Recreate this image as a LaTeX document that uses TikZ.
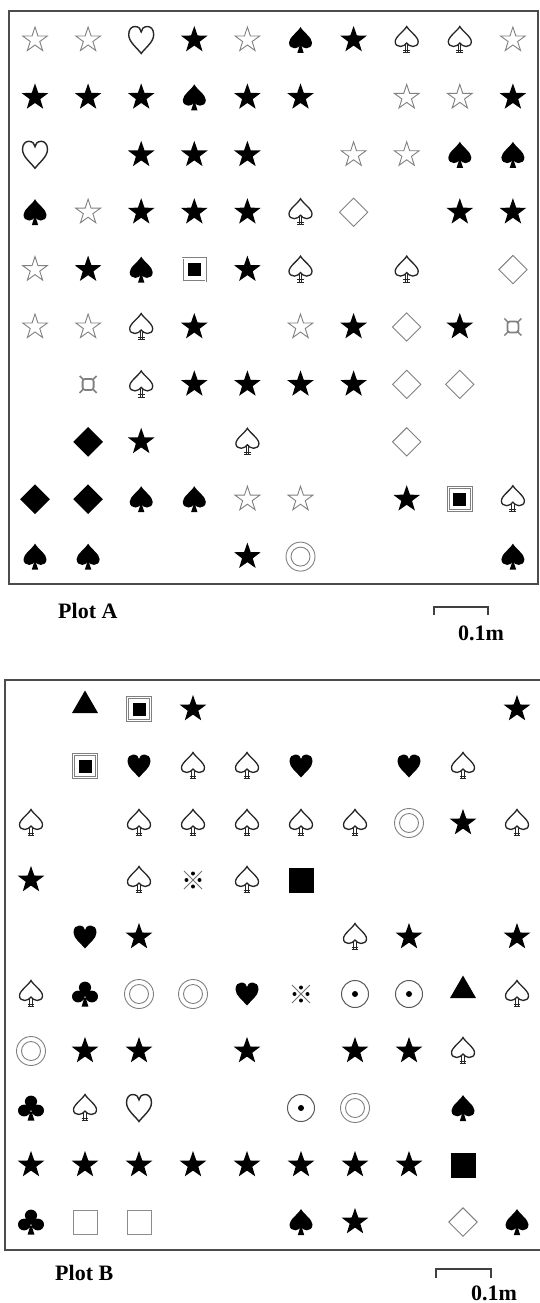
\documentclass[tikz,border=0pt]{standalone}
\usepackage{fontspec}
\setmainfont{Liberation Serif}
\usetikzlibrary{shapes.geometric}
\def\heartpath{(0,0.5) .. controls (-0.15,0.3) and (-0.5,0.08) .. (-0.5,-0.2)
 .. controls (-0.5,-0.4) and (-0.38,-0.5) .. (-0.25,-0.5)
 .. controls (-0.1,-0.5) and (0,-0.4) .. (0,-0.3)
 .. controls (0,-0.4) and (0.1,-0.5) .. (0.25,-0.5)
 .. controls (0.38,-0.5) and (0.5,-0.4) .. (0.5,-0.2)
 .. controls (0.5,0.08) and (0.15,0.3) .. (0,0.5) -- cycle}
\def\spadepath{(0,-0.5) .. controls (-0.12,-0.3) and (-0.5,-0.1) .. (-0.5,0.1)
 .. controls (-0.5,0.25) and (-0.38,0.32) .. (-0.25,0.32)
 .. controls (-0.13,0.32) and (-0.05,0.25) .. (-0.03,0.2)
 -- (-0.14,0.5) -- (0.14,0.5) -- (0.03,0.2)
 .. controls (0.05,0.25) and (0.13,0.32) .. (0.25,0.32)
 .. controls (0.38,0.32) and (0.5,0.25) .. (0.5,0.1)
 .. controls (0.5,-0.1) and (0.12,-0.3) .. (0,-0.5) -- cycle}
\def\ospadepath{(0,-0.5) .. controls (-0.1,-0.34) and (-0.5,-0.12) .. (-0.5,0.06)
 .. controls (-0.5,0.18) and (-0.4,0.24) .. (-0.27,0.24)
 .. controls (-0.15,0.24) and (-0.05,0.17) .. (0,0.11)
 .. controls (0.05,0.17) and (0.15,0.24) .. (0.27,0.24)
 .. controls (0.4,0.24) and (0.5,0.18) .. (0.5,0.06)
 .. controls (0.5,-0.12) and (0.1,-0.34) .. (0,-0.5) -- cycle}
\tikzset{
  frame/.style={draw=black!70, line width=1.4pt},
  bar/.style={draw=black!75, line width=1.1pt},
  label/.style={font=\bfseries\fontsize{22}{22}\selectfont, inner sep=0pt},
  sym s/.style={shape=star, star points=5, star point ratio=2.6, minimum size=26pt, inner sep=0pt, draw=black!50, line width=0.9pt},
  sym S/.style={shape=star, star points=5, star point ratio=2.5, minimum size=28pt, inner sep=0pt, fill=black},
  sym d/.style={shape=rectangle, rotate=45, minimum size=20pt, inner sep=0pt, draw=black!50, line width=0.9pt},
  sym D/.style={shape=rectangle, rotate=45, minimum size=21pt, inner sep=0pt, fill=black},
  sym q/.style={shape=rectangle, minimum size=23pt, inner sep=0pt, draw=black!50, double, double distance=1.2pt, line width=0.7pt,
    path picture={\fill[black] (path picture bounding box.center) ++(-6.5,-6.5) rectangle ++(13,13);}},
  sym o/.style={shape=circle, minimum size=29pt, inner sep=0pt, draw=black!50, line width=0.9pt,
    path picture={\draw[black!50, line width=0.9pt] (path picture bounding box.center) circle (9.5pt);}},
  sym t/.style={shape=circle, minimum size=27pt, inner sep=0pt, draw=black!65, line width=1pt,
    path picture={\fill[black] (path picture bounding box.center) circle (3pt);}},
  sym T/.style={shape=regular polygon, regular polygon sides=3, minimum size=30pt, inner sep=0pt, fill=black, yshift=3.5pt},
  sym Q/.style={shape=rectangle, minimum size=25pt, inner sep=0pt, fill=black},
  sym b/.style={shape=rectangle, minimum size=24pt, inner sep=0pt, draw=black!45, line width=1pt},
  pics/heartF/.style={code={\fill[black, xscale=23, yscale=23] \heartpath;}},
  pics/heartO/.style={code={\draw[black!85, line width=1.4pt, xscale=25, yscale=27] \heartpath;}},
  pics/spadeF/.style={code={\fill[black, xscale=23, yscale=26] \spadepath;}},
  pics/spadeO/.style={code={
    \draw[black!85, line width=1.3pt, xscale=23, yscale=27] \ospadepath;
    \draw[black!85, line width=1pt, xscale=23, yscale=27]
      (-0.05,0.14) -- (-0.05,0.47) (0.05,0.14) -- (0.05,0.47)
      (-0.15,0.38) -- (0.15,0.38) (-0.15,0.47) -- (0.15,0.47);}},
  pics/club/.style={code={
    \fill[black, xscale=26, yscale=25] (0,-0.26) circle (0.235) (-0.265,0.1) circle (0.235) (0.265,0.1) circle (0.235)
      (0,0.02) circle (0.14) (0,0.05) -- (-0.13,0.5) -- (0.13,0.5) -- cycle;}},
  pics/curr/.style={code={
    \draw[black!50, line width=1.8pt, rounded corners=2.5pt] (-5.5,-5.5) rectangle (5.5,5.5);
    \draw[black!50, line width=1.5pt] (-5,-5) -- (-8.5,-8.5) (5,-5) -- (8.5,-8.5) (-5,5) -- (-8.5,8.5) (5,5) -- (8.5,8.5);}},
  pics/refmark/.style={code={
    \draw[black!55, line width=1pt] (-9,-9) -- (9,9) (-9,9) -- (9,-9);
    \fill[black] (0,-6.5) circle (2) (0,6.5) circle (2) (-6.5,0) circle (2) (6.5,0) circle (2);}},
}
\expandafter\def\csname Ds\endcsname#1{\node[sym s] (#1) at (\xx,\yy) {};}
\expandafter\def\csname DS\endcsname#1{\node[sym S] (#1) at (\xx,\yy) {};}
\expandafter\def\csname Dd\endcsname#1{\node[sym d] (#1) at (\xx,\yy) {};}
\expandafter\def\csname DD\endcsname#1{\node[sym D] (#1) at (\xx,\yy) {};}
\expandafter\def\csname Dq\endcsname#1{\node[sym q] (#1) at (\xx,\yy) {};}
\expandafter\def\csname Do\endcsname#1{\node[sym o] (#1) at (\xx,\yy) {};}
\expandafter\def\csname Dt\endcsname#1{\node[sym t] (#1) at (\xx,\yy) {};}
\expandafter\def\csname DT\endcsname#1{\node[sym T] (#1) at (\xx,\yy) {};}
\expandafter\def\csname DQ\endcsname#1{\node[sym Q] (#1) at (\xx,\yy) {};}
\expandafter\def\csname Db\endcsname#1{\node[sym b] (#1) at (\xx,\yy) {};}
\expandafter\def\csname Dh\endcsname#1{\pic (#1) at (\xx,\yy) {heartO};}
\expandafter\def\csname DH\endcsname#1{\pic (#1) at (\xx,\yy) {heartF};}
\expandafter\def\csname Dp\endcsname#1{\pic (#1) at (\xx,\yy) {spadeO};}
\expandafter\def\csname DP\endcsname#1{\pic (#1) at (\xx,\yy) {spadeF};}
\expandafter\def\csname DC\endcsname#1{\pic (#1) at (\xx,\yy) {club};}
\expandafter\def\csname Dc\endcsname#1{\pic (#1) at (\xx,\yy) {curr};}
\expandafter\def\csname Dx\endcsname#1{\pic (#1) at (\xx,\yy) {refmark};}
\expandafter\def\csname Dn\endcsname#1{}
\begin{document}
\begin{tikzpicture}[x=1pt,y=-1pt]
\useasboundingbox (0,0) rectangle (539,1303);
% ---------- Plot A ----------
\draw[frame] (9,11) rectangle (538,584);
\foreach \row [count=\r] in {
  {s,s,h,S,s,P,S,p,p,s},
  {S,S,S,P,S,S,n,s,s,S},
  {h,n,S,S,S,n,s,s,P,P},
  {P,s,S,S,S,p,d,n,S,S},
  {s,S,P,q,S,p,n,p,n,d},
  {s,s,p,S,n,s,S,d,S,c},
  {n,c,p,S,S,S,S,d,d,n},
  {n,D,S,n,p,n,n,d,n,n},
  {D,D,P,P,s,s,n,S,q,p},
  {P,P,n,n,S,o,n,n,n,P}}{
  \foreach \s [count=\c] in \row {
    \pgfmathsetmacro\xx{35+53.1*(\c-1)}
    \pgfmathsetmacro\yy{40+57.4*(\r-1)}
    \csname D\s\endcsname{a-\r-\c}
  }
}
\node[label, anchor=base west] (plotA) at (58,618) {Plot A};
\coordinate (a-l) at (434,615);
\coordinate (a-r) at (488,615);
\draw[bar] (a-l) -- ++(0,-8) -| (a-r);
\node[label, anchor=base] (scaleA) at (481,640) {0.1m};
% ---------- Plot B ----------
\draw[frame] (5,680) rectangle (545,1250);
\foreach \row [count=\r] in {
  {n,T,q,S,n,n,n,n,n,S},
  {n,q,H,p,p,H,n,H,p,n},
  {p,n,p,p,p,p,p,o,S,p},
  {S,n,p,x,p,Q,n,n,n,n},
  {n,H,S,n,n,n,p,S,n,S},
  {p,C,o,o,H,x,t,t,T,p},
  {o,S,S,n,S,n,S,S,p,n},
  {C,p,h,n,n,t,o,n,P,n},
  {S,S,S,S,S,S,S,S,Q,n},
  {C,b,b,n,n,P,S,n,d,P}}{
  \foreach \s [count=\c] in \row {
    \pgfmathsetmacro\xx{31+54.0*(\c-1)}
    \pgfmathsetmacro\yy{709+57.0*(\r-1)}
    \csname D\s\endcsname{b-\r-\c}
  }
}
\node[label, anchor=base west] (plotB) at (55,1280) {Plot B};
\coordinate (b-l) at (436,1278);
\coordinate (b-r) at (491,1278);
\draw[bar] (b-l) -- ++(0,-9) -| (b-r);
\node[label, anchor=base] (scaleB) at (494,1300) {0.1m};
\end{tikzpicture}
\end{document}
